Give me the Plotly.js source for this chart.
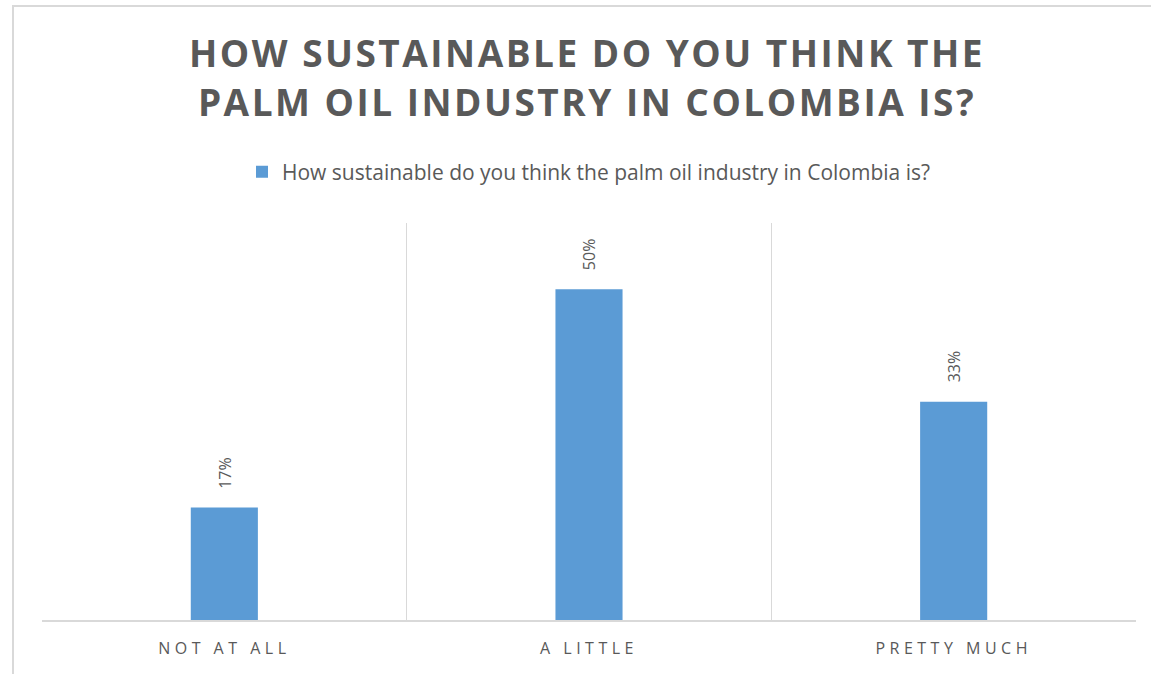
<!DOCTYPE html>
<html>
<head>
<meta charset="utf-8">
<script src="https://cdn.plot.ly/plotly-3.0.1.min.js"></script>
<style>
  html, body { margin: 0; padding: 0; background: #fff; overflow: hidden; }
  #frame { position: absolute; left: 12px; top: 5px; width: 1200px; height: 720px; border: 2px solid #d9d9d9; box-sizing: border-box; }
  #chart { position: absolute; left: 0; top: 0; width: 1151px; height: 674px; }
  .gtitle { letter-spacing: 2.5px; }
  .xtick text { letter-spacing: 4.5px; }
</style>
</head>
<body>
<div id="frame"></div>
<div id="chart"></div>
<script>
const categories = ["NOT AT ALL", "A LITTLE", "PRETTY MUCH"];
const values = [17, 50, 33];
const valueLabels = ["17%", "50%", "33%"];
const seriesName = "How sustainable do you think the palm oil industry in Colombia is?";
const chartTitle = "HOW SUSTAINABLE DO YOU THINK THE<br>PALM OIL INDUSTRY IN COLOMBIA IS?";

const textColor = "#595959";
const barColor = "#5B9BD5";
const gridColor = "#d9d9d9";

const trace = {
  type: "bar",
  x: categories,
  y: values,
  name: seriesName,
  marker: { color: barColor },
  width: 0.184,
  showlegend: true,
  hoverinfo: "none"
};

const annotations = categories.map((c, i) => ({
  x: c, y: values[i], xref: "x", yref: "y",
  text: valueLabels[i],
  textangle: -90,
  showarrow: false,
  yanchor: "bottom",
  xanchor: "center",
  yshift: 17,
  font: { family: "Open Sans, sans-serif", size: 16, color: textColor }
}));

const layout = {
  width: 1151, height: 674,
  margin: { l: 42, r: 15, t: 223, b: 54 },
  paper_bgcolor: "rgba(0,0,0,0)",
  plot_bgcolor: "rgba(0,0,0,0)",
  title: {
    text: chartTitle,
    x: 0.51, xref: "container", xanchor: "center",
    y: 0.9, yref: "container", yanchor: "middle",
    font: { family: "Open Sans, sans-serif", size: 37, color: textColor, weight: "bold" }
  },
  showlegend: true,
  legend: {
    orientation: "h",
    x: 0.5, xanchor: "center",
    y: 1.128, yanchor: "middle",
    font: { family: "Open Sans, sans-serif", size: 21, color: textColor },
    itemwidth: 30
  },
  xaxis: {
    type: "category",
    tickson: "boundaries",
    showgrid: true,
    gridcolor: gridColor,
    gridwidth: 1.5,
    showline: true,
    linecolor: gridColor,
    linewidth: 2,
    ticks: "",
    tickfont: { family: "Open Sans, sans-serif", size: 16, color: textColor },
    ticklabelstandoff: 13,
    fixedrange: true
  },
  yaxis: {
    range: [0, 60],
    showgrid: false,
    showticklabels: false,
    zeroline: false,
    showline: false,
    fixedrange: true
  },
  annotations: annotations
};

Plotly.newPlot("chart", [trace], layout, { displayModeBar: false, staticPlot: true });
</script>
</body>
</html>
